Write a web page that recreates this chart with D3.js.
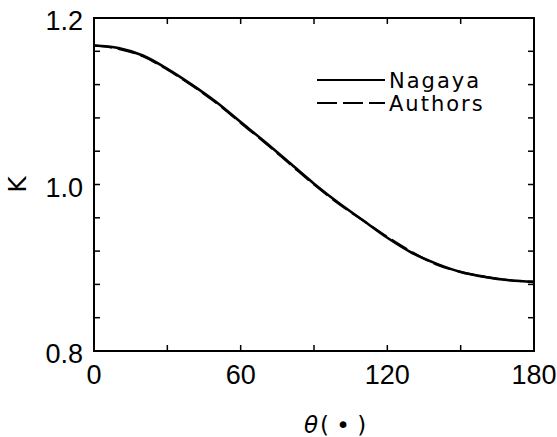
<!DOCTYPE html>
<html lang="en">
<head>
<meta charset="utf-8">
<title>K vs theta</title>
<script src="https://d3js.org/d3.v7.min.js"></script>
<style>
  body { margin: 0; background: #fff; }
  text { fill: #000; }
</style>
</head>
<body>
<div id="chart"></div>
<script>
// data
var theta = [0, 10, 20, 30, 40, 50, 60, 70, 80, 90, 100, 110, 120, 130, 140, 150, 160, 170, 180];
var nagaya = [1.167, 1.164, 1.155, 1.139, 1.120, 1.099, 1.075, 1.051, 1.026, 1.001, 0.978, 0.957, 0.936, 0.918, 0.905, 0.895, 0.889, 0.885, 0.883];
var authors = [1.167, 1.163, 1.154, 1.138, 1.119, 1.098, 1.074, 1.050, 1.025, 1.000, 0.977, 0.957, 0.937, 0.919, 0.904, 0.895, 0.889, 0.885, 0.883];
var xTickLabels = [0, 60, 120, 180];
var yTickLabels = [0.8, 1.0, 1.2];
var legendNames = ["Nagaya", "Authors"];

var W = 557, H = 437;
var margin = {top: 18, right: 23, bottom: 86, left: 94};
var width = W - margin.left - margin.right,
    height = H - margin.top - margin.bottom;

var svg = d3.select("#chart").append("svg")
    .attr("width", W).attr("height", H);
var g = svg.append("g")
    .attr("transform", "translate(" + margin.left + "," + margin.top + ")");

var x = d3.scaleLinear().domain([0, 180]).range([0, width]);
var y = d3.scaleLinear().domain([0.8, 1.2]).range([height, 0]);

var font = "'DejaVu Sans', sans-serif";

// frame
g.append("rect")
    .attr("width", width).attr("height", height)
    .attr("fill", "none").attr("stroke", "#000").attr("stroke-width", 2);

// inward ticks on all four sides
var xt = d3.range(0, 181, 30);
var yt = d3.range(0, 11).map(function(i) { return 0.8 + i * 0.04; });
var tl = 6;
g.selectAll(".xtb").data(xt).enter().append("line")
    .attr("x1", function(d) { return x(d); }).attr("x2", function(d) { return x(d); })
    .attr("y1", height).attr("y2", height - tl)
    .attr("stroke", "#000").attr("stroke-width", 1.5);
g.selectAll(".xtt").data(xt).enter().append("line")
    .attr("x1", function(d) { return x(d); }).attr("x2", function(d) { return x(d); })
    .attr("y1", 0).attr("y2", tl)
    .attr("stroke", "#000").attr("stroke-width", 1.5);
g.selectAll(".ytl").data(yt).enter().append("line")
    .attr("x1", 0).attr("x2", tl)
    .attr("y1", function(d) { return y(d); }).attr("y2", function(d) { return y(d); })
    .attr("stroke", "#000").attr("stroke-width", 1.5);
g.selectAll(".ytr").data(yt).enter().append("line")
    .attr("x1", width).attr("x2", width - tl)
    .attr("y1", function(d) { return y(d); }).attr("y2", function(d) { return y(d); })
    .attr("stroke", "#000").attr("stroke-width", 1.5);

// tick labels
g.selectAll(".xl").data(xTickLabels).enter().append("text")
    .attr("x", function(d) { return x(d); })
    .attr("y", height + 33)
    .attr("text-anchor", "middle")
    .style("font-family", "'Liberation Sans', sans-serif")
    .style("font-size", "27px")
    .text(function(d) { return d; });
g.selectAll(".yl").data(yTickLabels).enter().append("text")
    .attr("x", -11)
    .attr("y", function(d) { return y(d) + 12; })
    .attr("text-anchor", "end")
    .style("font-family", "'Liberation Sans', sans-serif")
    .style("font-size", "27px")
    .text(function(d) { return d.toFixed(1); });

// axis titles
svg.append("text")
    .attr("transform", "translate(26," + (margin.top + y(1.0)) + ") rotate(-90)")
    .attr("text-anchor", "middle")
    .style("font-family", font)
    .style("font-size", "25px")
    .text("K");
var xt2 = svg.append("text")
    .attr("x", margin.left + x(90) + 21)
    .attr("y", 433)
    .attr("text-anchor", "middle")
    .style("font-family", font)
    .style("font-size", "23px");
xt2.append("tspan").style("font-style", "italic").text("θ");
xt2.append("tspan").attr("dx", 2).text("( • )");

// curves
var line = d3.line()
    .x(function(d, i) { return x(theta[i]); })
    .y(function(d) { return y(d); })
    .curve(d3.curveMonotoneX);

g.append("path").datum(nagaya)
    .attr("d", line)
    .attr("fill", "none").attr("stroke", "#000").attr("stroke-width", 2.6);
g.append("path").datum(authors)
    .attr("d", line)
    .attr("fill", "none").attr("stroke", "#000").attr("stroke-width", 2.2)
    .attr("stroke-dasharray", "18,6");

// legend
var lx = 317 - margin.left, ly = 80 - margin.top;
var leg = g.selectAll(".leg").data(legendNames).enter().append("g")
    .attr("transform", function(d, i) { return "translate(" + lx + "," + (ly + i * 23) + ")"; });
leg.append("line")
    .attr("x1", 0).attr("x2", 68).attr("y1", 0).attr("y2", 0)
    .attr("stroke", "#000").attr("stroke-width", 2)
    .attr("stroke-dasharray", function(d, i) { return i === 0 ? null : "20,6"; });
leg.append("text")
    .attr("x", 72).attr("y", 8)
    .style("font-family", font)
    .style("font-size", "21px")
    .style("letter-spacing", "2px")
    .text(function(d) { return d; });
</script>
</body>
</html>
